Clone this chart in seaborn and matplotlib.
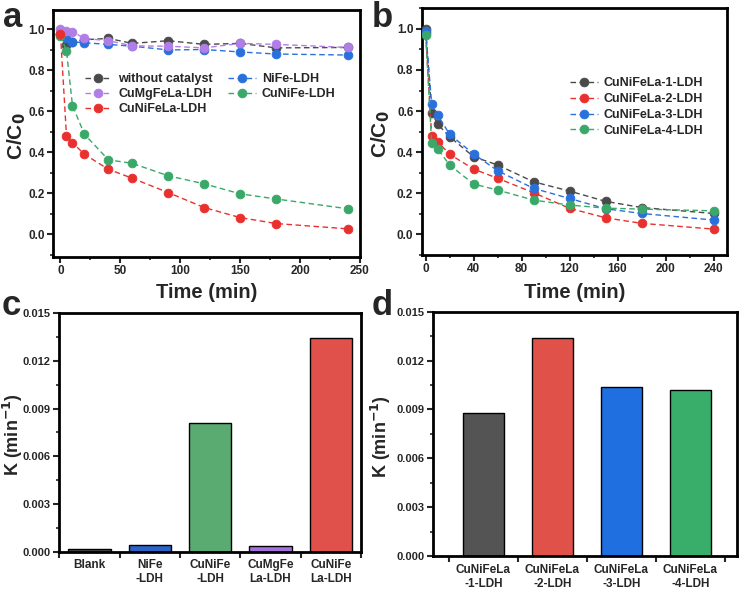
import matplotlib
matplotlib.use("Agg")
import matplotlib.pyplot as plt
import seaborn as sns
import pandas as pd
from matplotlib.ticker import MultipleLocator, FormatStrFormatter, FixedLocator

sns.set_style("ticks")
plt.rcParams['font.family'] = ['Liberation Sans', 'DejaVu Sans']
plt.rcParams['font.weight'] = 'bold'
plt.rcParams['mathtext.default'] = 'bf'

# ---------------- data ----------------
time_min = [0, 5, 10, 20, 40, 60, 90, 120, 150, 180, 240]

# panel a
a_labels = ["without catalyst", "CuMgFeLa-LDH", "CuNiFeLa-LDH", "NiFe-LDH", "CuNiFe-LDH"]
a_without = [0.98, 0.923, 0.94, 0.95, 0.956, 0.932, 0.945, 0.927, 0.932, 0.91, 0.912]
a_cumgfela = [1.0, 0.993, 0.989, 0.956, 0.945, 0.92, 0.918, 0.91, 0.932, 0.927, 0.912]
a_cunifela = [0.976, 0.48, 0.447, 0.39, 0.317, 0.273, 0.203, 0.13, 0.081, 0.052, 0.026]
a_nife = [0.98, 0.956, 0.94, 0.935, 0.927, 0.918, 0.90, 0.902, 0.89, 0.88, 0.875]
a_cunife = [0.97, 0.896, 0.628, 0.488, 0.363, 0.346, 0.285, 0.246, 0.197, 0.172, 0.124]

# panel b
b_labels = ["CuNiFeLa-1-LDH", "CuNiFeLa-2-LDH", "CuNiFeLa-3-LDH", "CuNiFeLa-4-LDH"]
b_1 = [1.0, 0.593, 0.536, 0.475, 0.378, 0.338, 0.256, 0.211, 0.161, 0.131, 0.102]
b_2 = [0.98, 0.479, 0.451, 0.39, 0.318, 0.273, 0.203, 0.127, 0.081, 0.054, 0.026]
b_3 = [0.99, 0.635, 0.581, 0.487, 0.391, 0.31, 0.224, 0.175, 0.125, 0.102, 0.07]
b_4 = [0.968, 0.446, 0.416, 0.338, 0.245, 0.216, 0.167, 0.143, 0.128, 0.123, 0.115]

# panel c
c_cats = ["Blank", "NiFe\n-LDH", "CuNiFe\n-LDH", "CuMgFe\nLa-LDH", "CuNiFe\nLa-LDH"]
c_k = [0.00023, 0.00044, 0.00807, 0.00038, 0.01339]

# panel d
d_cats = ["CuNiFeLa\n-1-LDH", "CuNiFeLa\n-2-LDH", "CuNiFeLa\n-3-LDH", "CuNiFeLa\n-4-LDH"]
d_k = [0.00876, 0.0134, 0.01037, 0.01019]

# ---------------- styles ----------------
col_gray = "#4a4a4a"
col_purple = "#b07ee6"
col_red = "#e8312f"
col_blue = "#2a70dc"
col_green = "#3aa868"

c_colors = ["#4d4d4d", "#2d62c6", "#5aab72", "#a472da", "#e0514b"]
d_colors = ["#545454", "#e0514a", "#1f6fe0", "#39ae6a"]

W, H = 740, 591
fig = plt.figure(figsize=(W / 100, H / 100), dpi=100)


def px_axes(l, t, r, b):
    return fig.add_axes([l / W, 1 - b / H, (r - l) / W, (b - t) / H])


def style_axes(ax, ysize=8.5):
    for s in ax.spines.values():
        s.set_linewidth(2.0)
        s.set_color("black")
    ax.tick_params(axis="both", which="major", direction="out", length=4, width=1.5,
                   labelsize=8.5, pad=2)
    ax.tick_params(axis="y", which="major", labelsize=ysize)
    ax.tick_params(axis="both", which="minor", direction="out", length=2.5, width=1.2)
    ax.tick_params(top=False, right=False, which="both")
    for lab in ax.get_xticklabels() + ax.get_yticklabels():
        lab.set_fontweight("bold")


def place_ylabel(ax, text, x_px, left_px, width_px, size=15):
    ax.set_ylabel(text, fontsize=size, fontweight="bold")
    ax.yaxis.set_label_coords((x_px - left_px) / width_px, 0.49)
    ax.yaxis.label.set_va("center")
    ax.yaxis.label.set_ha("center")


def place_xlabel(ax, text, y_px, bottom_px, height_px):
    ax.set_xlabel(text, fontsize=14.5, fontweight="bold")
    ax.xaxis.set_label_coords(0.5, (bottom_px - y_px) / height_px)
    ax.xaxis.label.set_va("center")


def draw_line(ax, t, v, color, label):
    df = pd.DataFrame({"t": t, "v": v})
    sns.lineplot(data=df, x="t", y="v", ax=ax, color=color, linestyle=(0, (4, 2.5)),
                 linewidth=1.0, marker="o", markersize=6.3, markeredgecolor=color,
                 markeredgewidth=0.6, label=label, zorder=3)


# ---------------- panel a ----------------
axa = px_axes(53.3, 10, 360, 256.7)
series_a = [
    (a_without, col_gray, a_labels[0]),
    (a_nife, col_blue, a_labels[3]),
    (a_cunife, col_green, a_labels[4]),
    (a_cumgfela, col_purple, a_labels[1]),
    (a_cunifela, col_red, a_labels[2]),
]
for vals, c, lab in series_a:
    draw_line(axa, time_min, vals, c, lab)
axa.set_xlim(-6, 250)
axa.set_ylim(-0.11, 1.095)
axa.xaxis.set_major_locator(MultipleLocator(50))
axa.xaxis.set_minor_locator(MultipleLocator(25))
axa.yaxis.set_major_locator(MultipleLocator(0.2))
axa.yaxis.set_minor_locator(MultipleLocator(0.1))
axa.yaxis.set_major_formatter(FormatStrFormatter("%.1f"))
place_xlabel(axa, "Time (min)", 292, 256.7, 246.7)
place_ylabel(axa, "C/C$_\\mathbf{0}$", 17, 53.3, 306.7)
style_axes(axa)
h, l = axa.get_legend_handles_labels()
hd = dict(zip(l, h))
axa.legend([hd[x] for x in a_labels], a_labels, ncol=2, frameon=False,
           loc="upper left", bbox_to_anchor=(0.086, 0.765),
           prop={"weight": "bold", "size": 9}, handlelength=2.2, handletextpad=0.5,
           columnspacing=1.2, labelspacing=0.25, borderaxespad=0)
fig.text(3 / W, 1 - 27 / H, "a", fontsize=25, fontweight="bold", ha="left", va="baseline")

# ---------------- panel b ----------------
axb = px_axes(421.7, 8.3, 726.7, 255)
series_b = [(b_1, col_gray), (b_2, col_red), (b_3, col_blue), (b_4, col_green)]
for (vals, c), lab in zip(series_b, b_labels):
    draw_line(axb, time_min, vals, c, lab)
axb.set_xlim(-3.3, 251)
axb.set_ylim(-0.1, 1.1)
axb.xaxis.set_major_locator(MultipleLocator(40))
axb.xaxis.set_minor_locator(MultipleLocator(20))
axb.yaxis.set_major_locator(MultipleLocator(0.2))
axb.yaxis.set_minor_locator(MultipleLocator(0.1))
axb.yaxis.set_major_formatter(FormatStrFormatter("%.1f"))
place_xlabel(axb, "Time (min)", 292, 255, 246.7)
place_ylabel(axb, "C/C$_\\mathbf{0}$", 381, 421.7, 305)
style_axes(axb)
axb.legend(frameon=False, loc="upper left", bbox_to_anchor=(0.47, 0.74),
           prop={"weight": "bold", "size": 9}, handlelength=2.2, handletextpad=0.5,
           labelspacing=0.3, borderaxespad=0)
fig.text(372 / W, 1 - 27 / H, "b", fontsize=25, fontweight="bold", ha="left", va="baseline")


# ---------------- bar panels ----------------
def bar_panel(ax, cats, vals, colors, xlim, width, lab_px, left_px, width_px, xpad):
    df = pd.DataFrame({"cat": cats, "k": vals})
    sns.barplot(data=df, x="cat", y="k", hue="cat", palette=colors, legend=False,
                ax=ax, width=width, edgecolor="black", linewidth=1.0, saturation=1)
    ax.set_xlim(*xlim)
    ax.set_ylim(0, 0.015)
    ax.yaxis.set_major_locator(MultipleLocator(0.003))
    ax.yaxis.set_minor_locator(MultipleLocator(0.0015))
    ax.yaxis.set_major_formatter(FormatStrFormatter("%.3f"))
    ax.xaxis.set_minor_locator(FixedLocator([i - 0.5 for i in range(len(cats) + 1)]))
    ax.set_xlabel("")
    place_ylabel(ax, "K (min$^{\\mathbf{-1}}$)", lab_px, left_px, width_px, size=13)
    style_axes(ax, ysize=8.0)
    ax.tick_params(axis="x", which="major", length=0, pad=xpad)
    ax.tick_params(axis="x", which="minor", length=4, width=1.5)
    ax.tick_params(axis="y", which="minor", length=2.5)
    for lab in ax.get_xticklabels():
        lab.set_fontweight("bold")
        lab.set_fontsize(8.5)
        lab.set_linespacing(1.2)


axc = px_axes(59.3, 312.7, 361, 552.3)
bar_panel(axc, c_cats, c_k, c_colors, (-0.5, 4.5), 0.7, 12.5, 59.3, 301.7, 5)
fig.text(2 / W, 1 - 315 / H, "c", fontsize=25, fontweight="bold", ha="left", va="baseline")

axd = px_axes(433.3, 311.7, 736.7, 556)
bar_panel(axd, d_cats, d_k, d_colors, (-0.725, 3.67), 0.6, 381, 433.3, 303.4, 6)
fig.text(372 / W, 1 - 315 / H, "d", fontsize=25, fontweight="bold", ha="left", va="baseline")

fig.savefig("out.png", dpi=100)
